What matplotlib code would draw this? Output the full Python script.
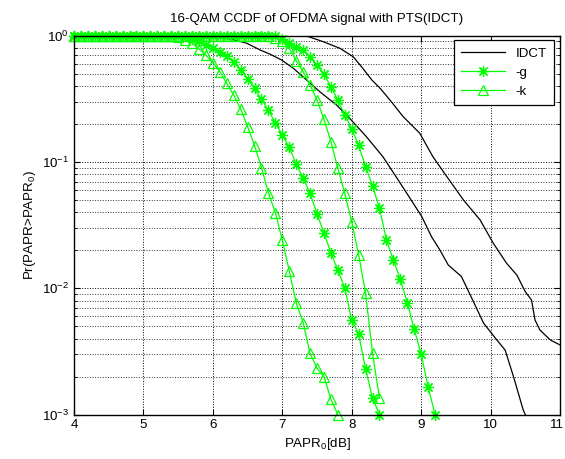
import numpy as np
import matplotlib
matplotlib.use('Agg')
import matplotlib.pyplot as plt
import matplotlib.transforms as mtransforms
from matplotlib.ticker import LogLocator, NullFormatter

plt.rcParams['font.family'] = ['Liberation Sans', 'DejaVu Sans']
plt.rcParams['mathtext.fontset'] = 'custom'
plt.rcParams['mathtext.rm'] = 'Liberation Sans'
plt.rcParams['mathtext.it'] = 'Liberation Sans:italic'

# PAPR0 grid of the marker curves (0.1 dB steps)
papr_grid = np.round(np.arange(40, 111) / 10.0, 1)

# IDCT curves (black, no markers)
idct1_x = [4.0, 5.0, 5.5, 6.01, 6.25, 6.49, 6.68, 6.82, 6.99, 7.16, 7.35, 7.54, 7.78,
           7.97, 8.21, 8.45, 8.67, 8.84, 9.01, 9.15, 9.27, 9.39, 9.58, 9.73, 9.90,
           10.09, 10.21, 10.33, 10.47, 10.5]
idct1_y = [1.0, 0.999, 0.995, 0.968, 0.942, 0.871, 0.771, 0.716, 0.642, 0.552, 0.446,
           0.360, 0.283, 0.222, 0.159, 0.110, 0.0720, 0.0516, 0.0369, 0.0256, 0.0201,
           0.0153, 0.0124, 0.00833, 0.00529, 0.00390, 0.00324, 0.00200, 0.00109, 0.001]

idct2_x = [4.0, 6.0, 6.97, 7.35, 7.59, 7.83, 8.02, 8.14, 8.29, 8.41, 8.55, 8.74, 8.98,
           9.17, 9.37, 9.61, 9.85, 10.04, 10.23, 10.38, 10.50, 10.59, 10.64, 10.71,
           10.86, 11.0]
idct2_y = [1.0, 1.0, 1.0, 0.995, 0.896, 0.795, 0.682, 0.569, 0.446, 0.383, 0.310,
           0.229, 0.169, 0.110, 0.0766, 0.0500, 0.0347, 0.0227, 0.0158, 0.0127,
           0.00940, 0.00807, 0.00561, 0.00468, 0.00390, 0.00356]

# '-g' curves (asterisk markers), values from 4.0 dB on
g1_y = [1.0, 1.0, 1.0, 1.0, 1.0, 1.0, 1.0, 1.0, 1.0, 1.0, 1.0, 1.0, 1.0, 1.0, 1.0, 1.0,
        0.99, 0.95, 0.90, 0.844, 0.799, 0.747, 0.690, 0.616, 0.535, 0.452, 0.383, 0.313,
        0.257, 0.204, 0.164, 0.131, 0.0961, 0.0747, 0.0565, 0.0388, 0.0275, 0.0191,
        0.0140, 0.0100, 0.00561, 0.00435, 0.00229, 0.00135, 0.001]
g2_y = [1.0, 1.0, 1.0, 1.0, 1.0, 1.0, 1.0, 1.0, 1.0, 1.0, 1.0, 1.0, 1.0, 1.0, 1.0, 1.0,
        1.0, 1.0, 1.0, 1.0, 1.0, 1.0, 1.0, 1.0, 1.0, 1.0, 1.0, 1.0, 1.0, 0.99, 0.95,
        0.871, 0.821, 0.771, 0.682, 0.581, 0.497, 0.395, 0.310, 0.236, 0.183, 0.136,
        0.0918, 0.0646, 0.0430, 0.0241, 0.0168, 0.0118, 0.00769, 0.00473, 0.00302,
        0.00166, 0.001]

# '-k' curves (triangle markers), values from 4.0 dB on
k1_y = [1.0, 1.0, 1.0, 1.0, 1.0, 1.0, 1.0, 1.0, 1.0, 1.0, 1.0, 1.0, 1.0, 1.0, 1.0,
        0.97, 0.93, 0.871, 0.785, 0.703, 0.611, 0.519, 0.420, 0.339, 0.263, 0.191,
        0.135, 0.0902, 0.0571, 0.0397, 0.0241, 0.0138, 0.00769, 0.00535, 0.00305,
        0.00233, 0.00200, 0.00132, 0.001]
k2_y = [1.0, 1.0, 1.0, 1.0, 1.0, 1.0, 1.0, 1.0, 1.0, 1.0, 1.0, 1.0, 1.0, 1.0, 1.0,
        1.0, 1.0, 1.0, 1.0, 1.0, 1.0, 1.0, 1.0, 1.0, 1.0, 1.0, 1.0, 1.0, 0.99, 0.96,
        0.90, 0.795, 0.634, 0.519, 0.407, 0.310, 0.218, 0.145, 0.0891, 0.0565, 0.0337,
        0.0184, 0.00913, 0.00306, 0.00135]

green = '#00ff00'
fs = 9.6

fig = plt.figure(figsize=(5.65, 4.59), dpi=100)
ax = fig.add_axes([74 / 565, 1 - 414.6 / 459, 486 / 565, 378.9 / 459])

ax.semilogy(idct1_x, idct1_y, color='k', lw=0.9, label='IDCT')
ax.semilogy(idct2_x, idct2_y, color='k', lw=0.9)

star = (8, 2, 0)
ax.semilogy(papr_grid[:len(g1_y)], g1_y, '-', color=green, lw=0.9, marker=star,
            ms=8, mew=0.9, label='-g', clip_on=False)
ax.semilogy(papr_grid[:len(g2_y)], g2_y, '-', color=green, lw=0.9, marker=star,
            ms=8, mew=0.9, clip_on=False)
ax.semilogy(papr_grid[:len(k1_y)], k1_y, '-', color=green, lw=0.9, marker='^',
            ms=7.5, mfc='none', mew=0.9, label='-k', clip_on=False)
ax.semilogy(papr_grid[:len(k2_y)], k2_y, '-', color=green, lw=0.9, marker='^',
            ms=7.5, mfc='none', mew=0.9, clip_on=False)

ax.set_xlim(4, 11)
ax.set_ylim(1e-3, 1)
ax.set_xticks(range(4, 12))
ax.yaxis.set_major_locator(LogLocator(base=10, numticks=10))
ax.yaxis.set_minor_locator(LogLocator(base=10, subs=np.arange(2, 10), numticks=10))
ax.yaxis.set_minor_formatter(NullFormatter())

ax.grid(True, which='major', ls=':', color='k', lw=0.7)
ax.grid(True, which='minor', axis='y', ls=':', color='#333333', lw=0.7)
ax.tick_params(which='both', direction='in', top=True, right=True, labelsize=fs)
ax.tick_params(which='major', length=4.5, width=0.8)
ax.tick_params(which='minor', length=2.5, width=0.6)
for s in ax.spines.values():
    s.set_linewidth(1.0)

# keep the last x tick label ("11") inside the figure
fig.canvas.draw()
last = ax.get_xticklabels()[-1]
last.set_transform(last.get_transform() +
                   mtransforms.ScaledTranslation(-3 / 100, 0, fig.dpi_scale_trans))

ax.set_title('16-QAM CCDF of OFDMA signal with PTS(IDCT)', fontsize=fs, pad=10)
ax.set_xlabel('PAPR$_0$[dB]', fontsize=fs, labelpad=3)
ax.set_ylabel('Pr(PAPR>PAPR$_0$)', fontsize=fs, labelpad=3)

leg = ax.legend(loc='upper right', bbox_to_anchor=(0.988, 0.988), borderaxespad=0,
                fontsize=fs, fancybox=False, framealpha=1, edgecolor='k',
                handlelength=3.3, borderpad=0.55, labelspacing=0.5)
leg.get_frame().set_linewidth(0.9)

fig.savefig('out.png', dpi=100)
